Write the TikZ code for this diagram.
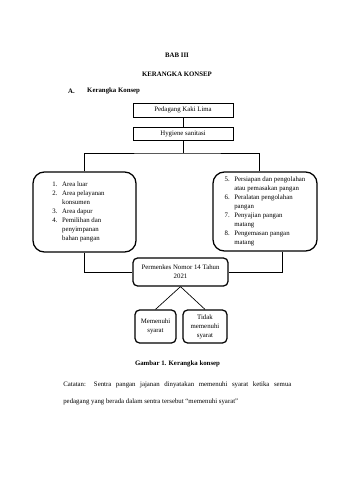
\documentclass[tikz,border=0pt]{standalone}
\usepackage{fontspec}
\setmainfont{Liberation Serif}
\newcommand\diagfont{\fontsize{12}{15.8}\selectfont}

\begin{document}
\begin{tikzpicture}[x=0.6195mm,y=-0.6195mm,line width=1.2pt,
  every node/.style={font=\diagfont},
  head/.style={font=\diagfont\bfseries},
  sqbox/.style={draw,line width=1.5pt,inner sep=0pt},
  rndbox/.style={draw,line width=2.2pt,rounded corners=#1,inner sep=0pt}]
\def\u{0.6195mm} % one pixel of the page
\useasboundingbox (0,0) rectangle (339,480);
% ================= headings =================
\node[head] (bab) at (177,55) {BAB III};
\node[head] (ttl) at (177,74) {KERANGKA KONSEP};
\node[head,anchor=west] (seca) at (66,91) {A.};
\node[head,anchor=west] (secttl) at (85,91) {Kerangka Konsep};
% ================= top chain =================
\node[sqbox,minimum width=100*\u,minimum height=14*\u] (pkl) at (183,110) {Pedagang Kaki Lima};
\node[sqbox,minimum width=100*\u,minimum height=13*\u] (hyg) at (183,134) {Hygiene sanitasi};
\coordinate (bus) at (183,153);
% ================= the two lists =================
\node[rndbox=20pt,minimum width=103*\u,minimum height=80*\u] (areabox) at (84.5,212) {%
  \begin{tabular}{@{}r@{\hspace{8pt}}l@{\hspace{21pt}}}
  1. & Area luar\\
  2. & Area pelayanan\\
     & konsumen\\
  3. & Area dapur\\
  4. & Pemilihan dan\\
     & penyimpanan\\
     & bahan pangan
  \end{tabular}};
\node[rndbox=20pt,minimum width=104*\u,minimum height=79*\u] (procbox) at (265,211.5) {%
  \begin{tabular}{@{}r@{\hspace{8pt}}l@{}}
  5. & Persiapan dan pengolahan\\
     & atau pemasakan pangan\\
  6. & Peralatan pengolahan\\
     & pangan\\
  7. & Penyajian pangan\\
     & matang\\
  8. & Pengemasan pangan\\
     & matang
  \end{tabular}};
% ================= regulation and outcome =================
\node[rndbox=8pt,minimum width=95*\u,minimum height=28*\u,align=center] (regbox) at (180.5,272) {Permenkes Nomor 14 Tahun\\2021};
\node[rndbox=8pt,minimum width=41*\u,minimum height=33*\u,align=center] (memenuhi) at (155.5,326.5) {Memenuhi\\syarat};
\node[rndbox=8pt,minimum width=44*\u,minimum height=33*\u,align=center] (tidak) at (205,326.5) {Tidak\\memenuhi\\syarat};
% connectors
\draw (pkl) -- (hyg);
\draw (hyg) -- (bus);
\draw (areabox.north) |- (bus) -| ([xshift=-6*\u]procbox.north);
\draw (areabox.south) |- (regbox.west);
\draw ([xshift=17*\u]procbox.south) |- (regbox.east);
\draw (regbox.south) -- (memenuhi.north);
\draw (regbox.south) -- (tidak.north);
% ================= caption and note =================
\node[head] (cap) at (177.5,364) {Gambar 1. Kerangka konsep};
\node[text width=402pt,align=justify,inner sep=0pt,anchor=north west,
  font=\fontsize{12}{29.6}\selectfont] (note) at (63,381.3)
  {Catatan: Sentra pangan jajanan dinyatakan memenuhi syarat ketika semua\linebreak pedagang yang berada dalam sentra tersebut “memenuhi syarat”};
\end{tikzpicture}
\end{document}
